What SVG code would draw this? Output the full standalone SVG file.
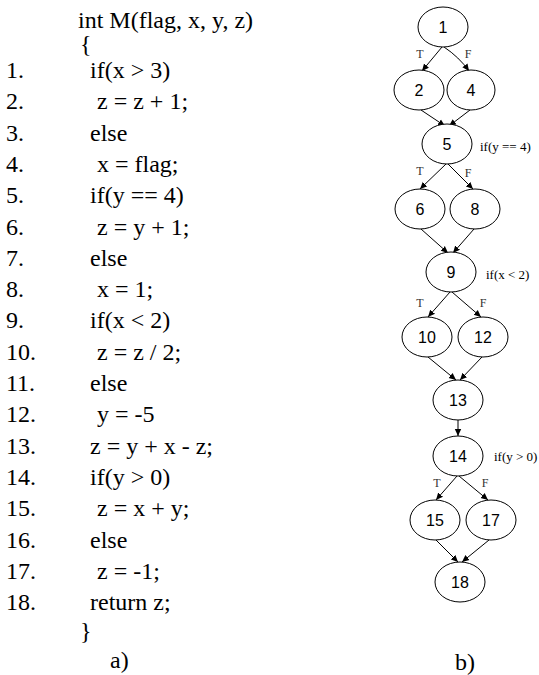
<svg xmlns="http://www.w3.org/2000/svg" width="539" height="675" viewBox="0 0 539 675">
<defs>
<marker id="ah" markerWidth="8" markerHeight="8" refX="7" refY="4" orient="auto" markerUnits="userSpaceOnUse">
<path d="M0,0.8 L7,4 L0,7.2 Z" fill="#000"/>
</marker>
</defs>
<style>
.code{font-family:"Liberation Serif","Times New Roman",serif;font-size:24px;fill:#000}
.node ellipse{fill:#fff;stroke:#000;stroke-width:1}
.node text{font-family:"Liberation Sans",Arial,sans-serif;font-size:16px;fill:#000;text-anchor:middle}
.cond{font-family:"Liberation Serif","Times New Roman",serif;font-size:13px;fill:#000}
.tf{font-family:"Liberation Serif","Times New Roman",serif;font-size:12px;fill:#333;text-anchor:middle}
.edges path{fill:none;stroke:#000;stroke-width:1;marker-end:url(#ah)}
</style>
<rect width="539" height="675" fill="#fff"/>
<g id="code">
<text class="code" x="78" y="28">int M(flag, x, y, z)</text>
<text class="code" x="80" y="52">{</text>
<text class="code" x="6" y="78">1.</text><text class="code" x="90" y="78">if(x &gt; 3)</text>
<text class="code" x="6" y="109.3">2.</text><text class="code" x="97" y="109.3">z = z + 1;</text>
<text class="code" x="6" y="140.6">3.</text><text class="code" x="90" y="140.6">else</text>
<text class="code" x="6" y="171.9">4.</text><text class="code" x="97" y="171.9">x = flag;</text>
<text class="code" x="6" y="203.2">5.</text><text class="code" x="90" y="203.2">if(y == 4)</text>
<text class="code" x="6" y="234.5">6.</text><text class="code" x="97" y="234.5">z = y + 1;</text>
<text class="code" x="6" y="265.8">7.</text><text class="code" x="90" y="265.8">else</text>
<text class="code" x="6" y="297.1">8.</text><text class="code" x="97" y="297.1">x = 1;</text>
<text class="code" x="6" y="328.4">9.</text><text class="code" x="90" y="328.4">if(x &lt; 2)</text>
<text class="code" x="6" y="359.7">10.</text><text class="code" x="97" y="359.7">z = z / 2;</text>
<text class="code" x="6" y="391">11.</text><text class="code" x="90" y="391">else</text>
<text class="code" x="6" y="422.3">12.</text><text class="code" x="97" y="422.3">y = -5</text>
<text class="code" x="6" y="453.6">13.</text><text class="code" x="90" y="453.6">z = y + x - z;</text>
<text class="code" x="6" y="484.9">14.</text><text class="code" x="90" y="484.9">if(y &gt; 0)</text>
<text class="code" x="6" y="516.2">15.</text><text class="code" x="97" y="516.2">z = x + y;</text>
<text class="code" x="6" y="547.5">16.</text><text class="code" x="90" y="547.5">else</text>
<text class="code" x="6" y="578.8">17.</text><text class="code" x="97" y="578.8">z = -1;</text>
<text class="code" x="6" y="610.1">18.</text><text class="code" x="90" y="610.1">return z;</text>
<text class="code" x="80" y="639">}</text>
<text class="code" x="110" y="668">a)</text>
</g>
<g class="edges" id="edges">
<path d="M442,47 L422,71"/>
<path d="M444,47 Q459,57 469,71"/>
<path d="M421,110 L445,126"/>
<path d="M470,110 L449,126"/>
<path d="M446,164 L420,189"/>
<path d="M448,164 L473,189"/>
<path d="M421,229 L448,253"/>
<path d="M474,229 L453,253"/>
<path d="M450,292 L428,317"/>
<path d="M452,292 L481,317"/>
<path d="M428,357 L456,380"/>
<path d="M482,357 L460,380"/>
<path d="M458,420 L458,436"/>
<path d="M457,476 L436,500"/>
<path d="M459,476 L488,500"/>
<path d="M436,540 L458,562"/>
<path d="M489,540 L462,562"/>
</g>
<g id="n1" class="node"><ellipse cx="443" cy="27" rx="25" ry="20"/><text x="443" y="33">1</text></g>
<g id="n2" class="node"><ellipse cx="419" cy="90" rx="25" ry="20"/><text x="419" y="96">2</text></g>
<g id="n4" class="node"><ellipse cx="471" cy="90" rx="24" ry="20"/><text x="471" y="96">4</text></g>
<g id="n5" class="node"><ellipse cx="447" cy="144" rx="25" ry="20"/><text x="447" y="150">5</text></g>
<g id="n6" class="node"><ellipse cx="420" cy="209" rx="25" ry="20"/><text x="420" y="215">6</text></g>
<g id="n8" class="node"><ellipse cx="475" cy="209" rx="25" ry="20"/><text x="475" y="215">8</text></g>
<g id="n9" class="node"><ellipse cx="451" cy="272" rx="25" ry="20"/><text x="451" y="278">9</text></g>
<g id="n10" class="node"><ellipse cx="427" cy="337" rx="25" ry="20"/><text x="427" y="343">10</text></g>
<g id="n12" class="node"><ellipse cx="483" cy="337" rx="25" ry="20"/><text x="483" y="343">12</text></g>
<g id="n13" class="node"><ellipse cx="458" cy="400" rx="25" ry="20"/><text x="458" y="406">13</text></g>
<g id="n14" class="node"><ellipse cx="458" cy="456" rx="25" ry="20"/><text x="458" y="462">14</text></g>
<g id="n15" class="node"><ellipse cx="435" cy="520" rx="25" ry="20"/><text x="435" y="526">15</text></g>
<g id="n17" class="node"><ellipse cx="491" cy="520" rx="25" ry="20"/><text x="491" y="526">17</text></g>
<g id="n18" class="node"><ellipse cx="460" cy="582" rx="25" ry="20"/><text x="460" y="588">18</text></g>
<g id="labels">
<text class="tf" x="420" y="58">T</text><text class="tf" x="468" y="58">F</text>
<text class="cond" x="480" y="151">if(y == 4)</text>
<text class="tf" x="420" y="175">T</text><text class="tf" x="468" y="177">F</text>
<text class="cond" x="486" y="279">if(x &lt; 2)</text>
<text class="tf" x="420" y="307">T</text><text class="tf" x="483" y="307">F</text>
<text class="cond" x="494" y="461">if(y &gt; 0)</text>
<text class="tf" x="437" y="487">T</text><text class="tf" x="485" y="487">F</text>
<text class="code" x="455" y="670">b)</text>
</g>
</svg>
